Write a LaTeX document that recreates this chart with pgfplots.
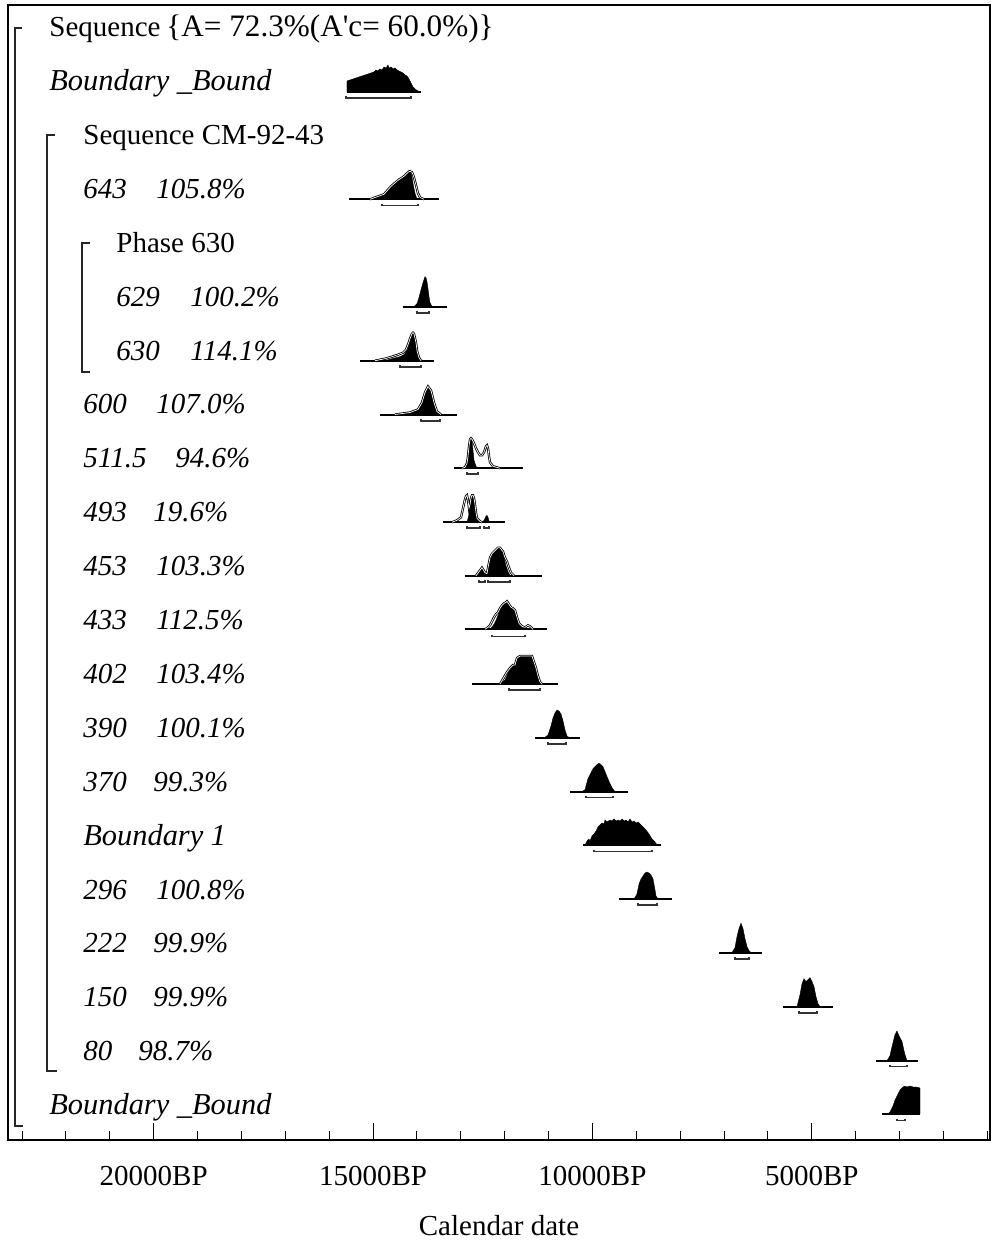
\documentclass[border=0pt]{standalone}
\usepackage{fontspec}
\setmainfont{Liberation Serif}
\newfontfamily\rawserif{Liberation Serif}
\usepackage{pgfplots}
\pgfplotsset{compat=1.18}
\newcommand{\fs}{\fontsize{14.5}{17}\selectfont}
\newcommand{\base}[3]{\addplot[black, line width=1pt] coordinates {(#2,#1) (#3,#1)};}
\newcommand{\post}[2]{\addplot[fill=black, draw=black, line width=0.2pt] table[row sep=\\, x=t, y expr={#1-\thisrow{h}}] {t h\\ #2};}
\newcommand{\like}[2]{\addplot[black, line width=0.4pt, double=white, double distance=0.35pt] table[row sep=\\, x=t, y expr={#1-\thisrow{h}}] {t h\\ #2};}
\newcommand{\rng}[3]{\addplot[black!80, line width=0.6pt] table[row sep=\\, x=t, y expr={#1-\thisrow{h}}] {t h\\ #2 2\\ #2 0\\ #3 0\\ #3 2\\};}
\begin{document}
\begin{tikzpicture}
\path[use as bounding box] (-4pt,-52.5pt) rectangle (491pt,570pt);
\begin{axis}[
  scale only axis, width=491pt, height=567.5pt,
  x dir=reverse, y dir=reverse,
  xmin=940, xmax=23320, ymin=5, ymax=1140,
  axis line style={line width=0.8pt},
  ytick=\empty,
  scaled x ticks=false,
  xtick={5000,10000,15000,20000},
  xticklabels={5000BP,10000BP,15000BP,20000BP},
  minor xtick={1000,2000,...,23000},
  xtick pos=bottom, tick align=inside,
  major tick length=8.5pt, minor tick length=4.5pt,
  tick style={black, line width=0.5pt},
  xticklabel style={font=\fs, inner sep=0pt, anchor=north, yshift=-13pt},
  xlabel={Calendar date},
  every axis x label/.style={at={(axis description cs:0.5,0)}, anchor=base, yshift=-47.5pt, inner sep=0pt, font=\fs},
  clip=false,
]
% Boundary _Bound (top)
\base{92}{15594}{13907}
\post{92}{15594 0\\15594 11\\15526 12\\15457 13\\15389 14\\15320 15\\15252 16\\15184 17\\15115 18\\15047 19\\14979 20\\14933 22\\14887 21\\14842 23\\14796 22\\14751 25\\14705 24\\14659 27\\14637 24\\14591 25\\14545 23\\14500 24\\14454 22\\14409 21\\14363 20\\14318 19\\14272 17\\14226 16\\14181 13\\14135 9\\14090 5\\14044 3\\13976 1\\13907 0\\}
\rng{98}{15617}{14135}
% 643
\base{199.3}{15548}{13497}
\post{199.3}{15070 0\\14887 2\\14751 5\\14659 9\\14591 13\\14523 15\\14477 17\\14431 18\\14409 21\\14363 20\\14318 23\\14295 22\\14249 25\\14226 24\\14181 29\\14135 27\\14112 22\\14090 16\\14044 6\\13998 0\\}
\like{199.3}{15070 0\\14751 5\\14591 13\\14431 19\\14295 23\\14204 27\\14158 28\\14112 27\\14067 22\\14021 14\\13976 6\\13930 2\\13839 0\\}
\rng{205.7}{14796}{13976}
% 629
\base{306.7}{14318}{13315}
\post{306.7}{14067 0\\13998 3\\13953 9\\13907 17\\13862 24\\13839 27\\13816 30\\13793 29\\13771 25\\13748 18\\13725 10\\13702 4\\13657 0\\}
\rng{313}{13998}{13725}
% 630
\base{360.7}{15298}{13611}
\post{360.7}{14728 0\\14568 2\\14386 4\\14295 6\\14226 10\\14181 16\\14135 23\\14112 26\\14090 28\\14067 27\\14044 22\\14021 14\\13998 7\\13976 3\\13930 0\\}
\like{360.7}{14956 0\\14728 2\\14568 4\\14431 6\\14318 8\\14249 11\\14204 16\\14158 22\\14112 27\\14090 28\\14067 27\\14021 18\\13998 10\\13953 3\\13907 0\\}
\rng{367}{14386}{13907}
% 600
\base{414.5}{14842}{13087}
\post{414.5}{14272 0\\14112 2\\13976 5\\13907 10\\13862 17\\13816 23\\13771 27\\13748 28\\13725 26\\13679 24\\13634 15\\13588 6\\13543 2\\13474 0\\}
\like{414.5}{14500 0\\14158 2\\13976 5\\13885 12\\13816 22\\13748 28\\13679 24\\13611 12\\13543 3\\13452 0\\}
\rng{421}{13907}{13474}
% 511.5
\base{468.3}{13155}{11583}
\post{468.3}{12882 0\\12836 10\\12813 22\\12790 28\\12768 30\\12745 27\\12722 18\\12699 8\\12654 2\\12608 0\\}
\like{468.3}{12973 0\\12905 1\\12859 5\\12836 12\\12813 22\\12790 29\\12768 30\\12745 29\\12722 27\\12699 25\\12654 20\\12608 16\\12563 13\\12517 13\\12471 16\\12426 22\\12403 23\\12380 20\\12357 12\\12335 6\\12266 2\\12107 0\\}
\rng{474}{12859}{12608}
% 493
\base{522.3}{13406}{11993}
\post{522.3}{12859 0\\12813 8\\12790 18\\12768 24\\12745 27\\12722 27\\12699 24\\12677 18\\12654 10\\12631 4\\12585 1\\12517 0\\12471 2\\12426 6\\12403 7\\12380 5\\12357 1\\12335 0\\}
\like{522.3}{13201 0\\13087 2\\12996 5\\12950 14\\12905 23\\12882 26\\12859 27\\12836 22\\12813 14\\12790 18\\12768 24\\12745 27\\12722 27\\12699 24\\12677 18\\12654 10\\12631 4\\12563 1\\12517 0\\}
\rng{528}{12859}{12563}
\rng{528}{12471}{12357}
% 453
\base{575.7}{12905}{11150}
\post{575.7}{12654 0\\12585 4\\12517 8\\12449 3\\12403 2\\12380 8\\12335 18\\12289 22\\12244 24\\12198 26\\12153 28\\12107 27\\12061 24\\12016 18\\11970 10\\11924 4\\11879 0\\}
\like{575.7}{12654 0\\12585 4\\12517 8\\12449 3\\12403 2\\12380 8\\12335 18\\12289 22\\12244 24\\12198 26\\12153 28\\12107 28\\12038 24\\11993 18\\11947 14\\11902 8\\11856 3\\11788 0\\}
\rng{582}{12585}{12449}
\rng{582}{12380}{11879}
% 433
\base{629.3}{12905}{11036}
\post{629.3}{12403 0\\12312 1\\12244 5\\12198 9\\12153 14\\12107 20\\12061 24\\12016 26\\11970 27\\11947 28\\11902 25\\11856 22\\11833 20\\11810 21\\11765 19\\11719 12\\11674 6\\11628 3\\11583 1\\11515 0\\}
\like{629.3}{12449 0\\12380 2\\12335 4\\12289 8\\12244 12\\12198 15\\12153 17\\12107 21\\12061 24\\12016 26\\11970 27\\11947 28\\11902 25\\11856 22\\11810 21\\11765 19\\11719 12\\11674 6\\11606 3\\11537 2\\11469 4\\11423 3\\11355 0\\}
\rng{636.7}{12289}{11537}
% 402
\base{684}{12745}{10784}
\post{684}{12107 0\\11993 4\\11924 11\\11879 14\\11833 17\\11788 18\\11742 20\\11696 26\\11651 27\\11560 27\\11469 28\\11378 27\\11332 22\\11287 16\\11241 8\\11195 2\\11150 0\\}
\like{684}{12107 0\\12038 5\\11947 12\\11879 16\\11810 19\\11765 19\\11719 26\\11651 28\\11560 28\\11469 28\\11378 28\\11332 22\\11287 16\\11241 8\\11195 2\\11150 0\\}
\rng{690}{11902}{11195}
% 390
\base{738}{11309}{10284}
\post{738}{11104 0\\11013 3\\10945 12\\10899 20\\10854 25\\10808 28\\10763 27\\10717 24\\10671 17\\10626 8\\10580 2\\10512 0\\}
\rng{744}{11013}{10603}
% 370
\base{791.7}{10512}{9190}
\post{791.7}{10238 0\\10170 2\\10102 13\\10056 17\\9987 23\\9942 25\\9896 27\\9851 28.5\\9805 27\\9760 25\\9714 20\\9668 15\\9600 8\\9554 4\\9486 0\\}
\rng{797.7}{10147}{9532}
% Boundary 1
\base{845}{10215}{8438}
\post{845}{10170 0\\10124 4\\10079 6\\10056 4\\10010 9\\9965 11\\9919 14\\9874 18\\9828 20\\9782 22\\9737 21\\9714 25\\9668 23\\9600 25\\9554 24\\9509 26\\9463 24\\9418 25\\9372 24\\9326 26\\9281 24\\9235 25\\9190 23\\9144 26\\9098 23\\9053 24\\9007 22\\8962 23\\8916 21\\8848 18\\8780 15\\8711 11\\8643 6\\8574 3\\8529 0\\}
\rng{851.7}{9965}{8643}
% 296
\base{899}{9395}{8187}
\post{899}{9053 0\\8985 5\\8939 15\\8893 20\\8848 23\\8802 26\\8757 27\\8711 26\\8666 24\\8620 20\\8574 9\\8552 3\\8506 0\\}
\rng{905}{8962}{8529}
% 222
\base{952.7}{7116}{6136}
\post{952.7}{6820 0\\6752 5\\6706 16\\6660 24\\6615 29.5\\6569 24\\6524 14\\6478 6\\6432 2\\6387 0\\}
\rng{959}{6752}{6432}
% 150
\base{1006.7}{5657}{4518}
\post{1006.7}{5338 0\\5270 12\\5224 23\\5179 28\\5133 25\\5088 27\\5042 29\\4996 25\\4951 20\\4905 10\\4860 3\\4814 0\\}
\rng{1013}{5293}{4882}
% 80
\base{1060.7}{3538}{2581}
\post{1060.7}{3287 0\\3219 5\\3174 14\\3128 22\\3105 26\\3060 29.7\\3014 25\\2945 19\\2900 10\\2877 6\\2831 0\\}
\rng{1066.7}{3219}{2831}
% Boundary _Bound (bottom)
\base{1114}{3401}{2535}
\post{1114}{3265 0\\3219 2\\3151 8\\3105 14\\3037 20\\2991 24\\2923 27\\2877 28\\2831 27\\2763 28\\2695 27\\2626 27\\2535 26\\2535 0\\}
\rng{1120.7}{3060}{2877}
\end{axis}
\begin{scope}[x=0.5pt, y=-0.5pt, shift={(-4pt,570pt)}, lab/.style={anchor=base west, inner sep=0pt, font=\fs}, it/.style={anchor=base west, inner sep=0pt, font=\fs\itshape}, bit/.style={anchor=base west, inner sep=0pt, font=\fontsize{15.2}{17}\selectfont\itshape}]
\draw[line width=0.6pt, black!85] (22,28)--(15,28)--(15,1126)--(23,1126);
\draw[line width=0.6pt, black!85] (55,135)--(47,135)--(47,1071)--(57,1071);
\draw[line width=0.6pt, black!85] (90,243)--(82,243)--(82,372)--(90,372);
\node[lab] at (49,36.7) {Sequence};
\node[anchor=base west, inner sep=0pt, font=\fontsize{15.6}{17}\selectfont] at (166,36.7) {\{A= 72.3\%(A{\rawserif'}c= 60.0\%)\}};
\node[bit] at (49,90.6) {Boundary \_Bound};
\node[lab] at (83,144.5) {Sequence CM-92-43};
\node[it] at (83,198.4) {643}; \node[it] at (156,198.4) {105.8\%};
\node[lab] at (116,252.3) {Phase 630};
\node[it] at (116,306.2) {629}; \node[it] at (190,306.2) {100.2\%};
\node[it] at (116,360.1) {630}; \node[it] at (190,360.1) {114.1\%};
\node[it] at (83,414.0) {600}; \node[it] at (156,414.0) {107.0\%};
\node[it] at (83,467.9) {511.5}; \node[it] at (175,467.9) {94.6\%};
\node[it] at (83,521.8) {493}; \node[it] at (153,521.8) {19.6\%};
\node[it] at (83,575.7) {453}; \node[it] at (156,575.7) {103.3\%};
\node[it] at (83,629.6) {433}; \node[it] at (156,629.6) {112.5\%};
\node[it] at (83,683.5) {402}; \node[it] at (156,683.5) {103.4\%};
\node[it] at (83,737.4) {390}; \node[it] at (156,737.4) {100.1\%};
\node[it] at (83,791.3) {370}; \node[it] at (153,791.3) {99.3\%};
\node[bit] at (83,845.2) {Boundary 1};
\node[it] at (83,899.1) {296}; \node[it] at (156,899.1) {100.8\%};
\node[it] at (83,953.0) {222}; \node[it] at (153,953.0) {99.9\%};
\node[it] at (83,1006.9) {150}; \node[it] at (153,1006.9) {99.9\%};
\node[it] at (83,1060.8) {80}; \node[it] at (138,1060.8) {98.7\%};
\node[bit] at (49,1114.7) {Boundary \_Bound};
\end{scope}
\end{tikzpicture}
\end{document}
